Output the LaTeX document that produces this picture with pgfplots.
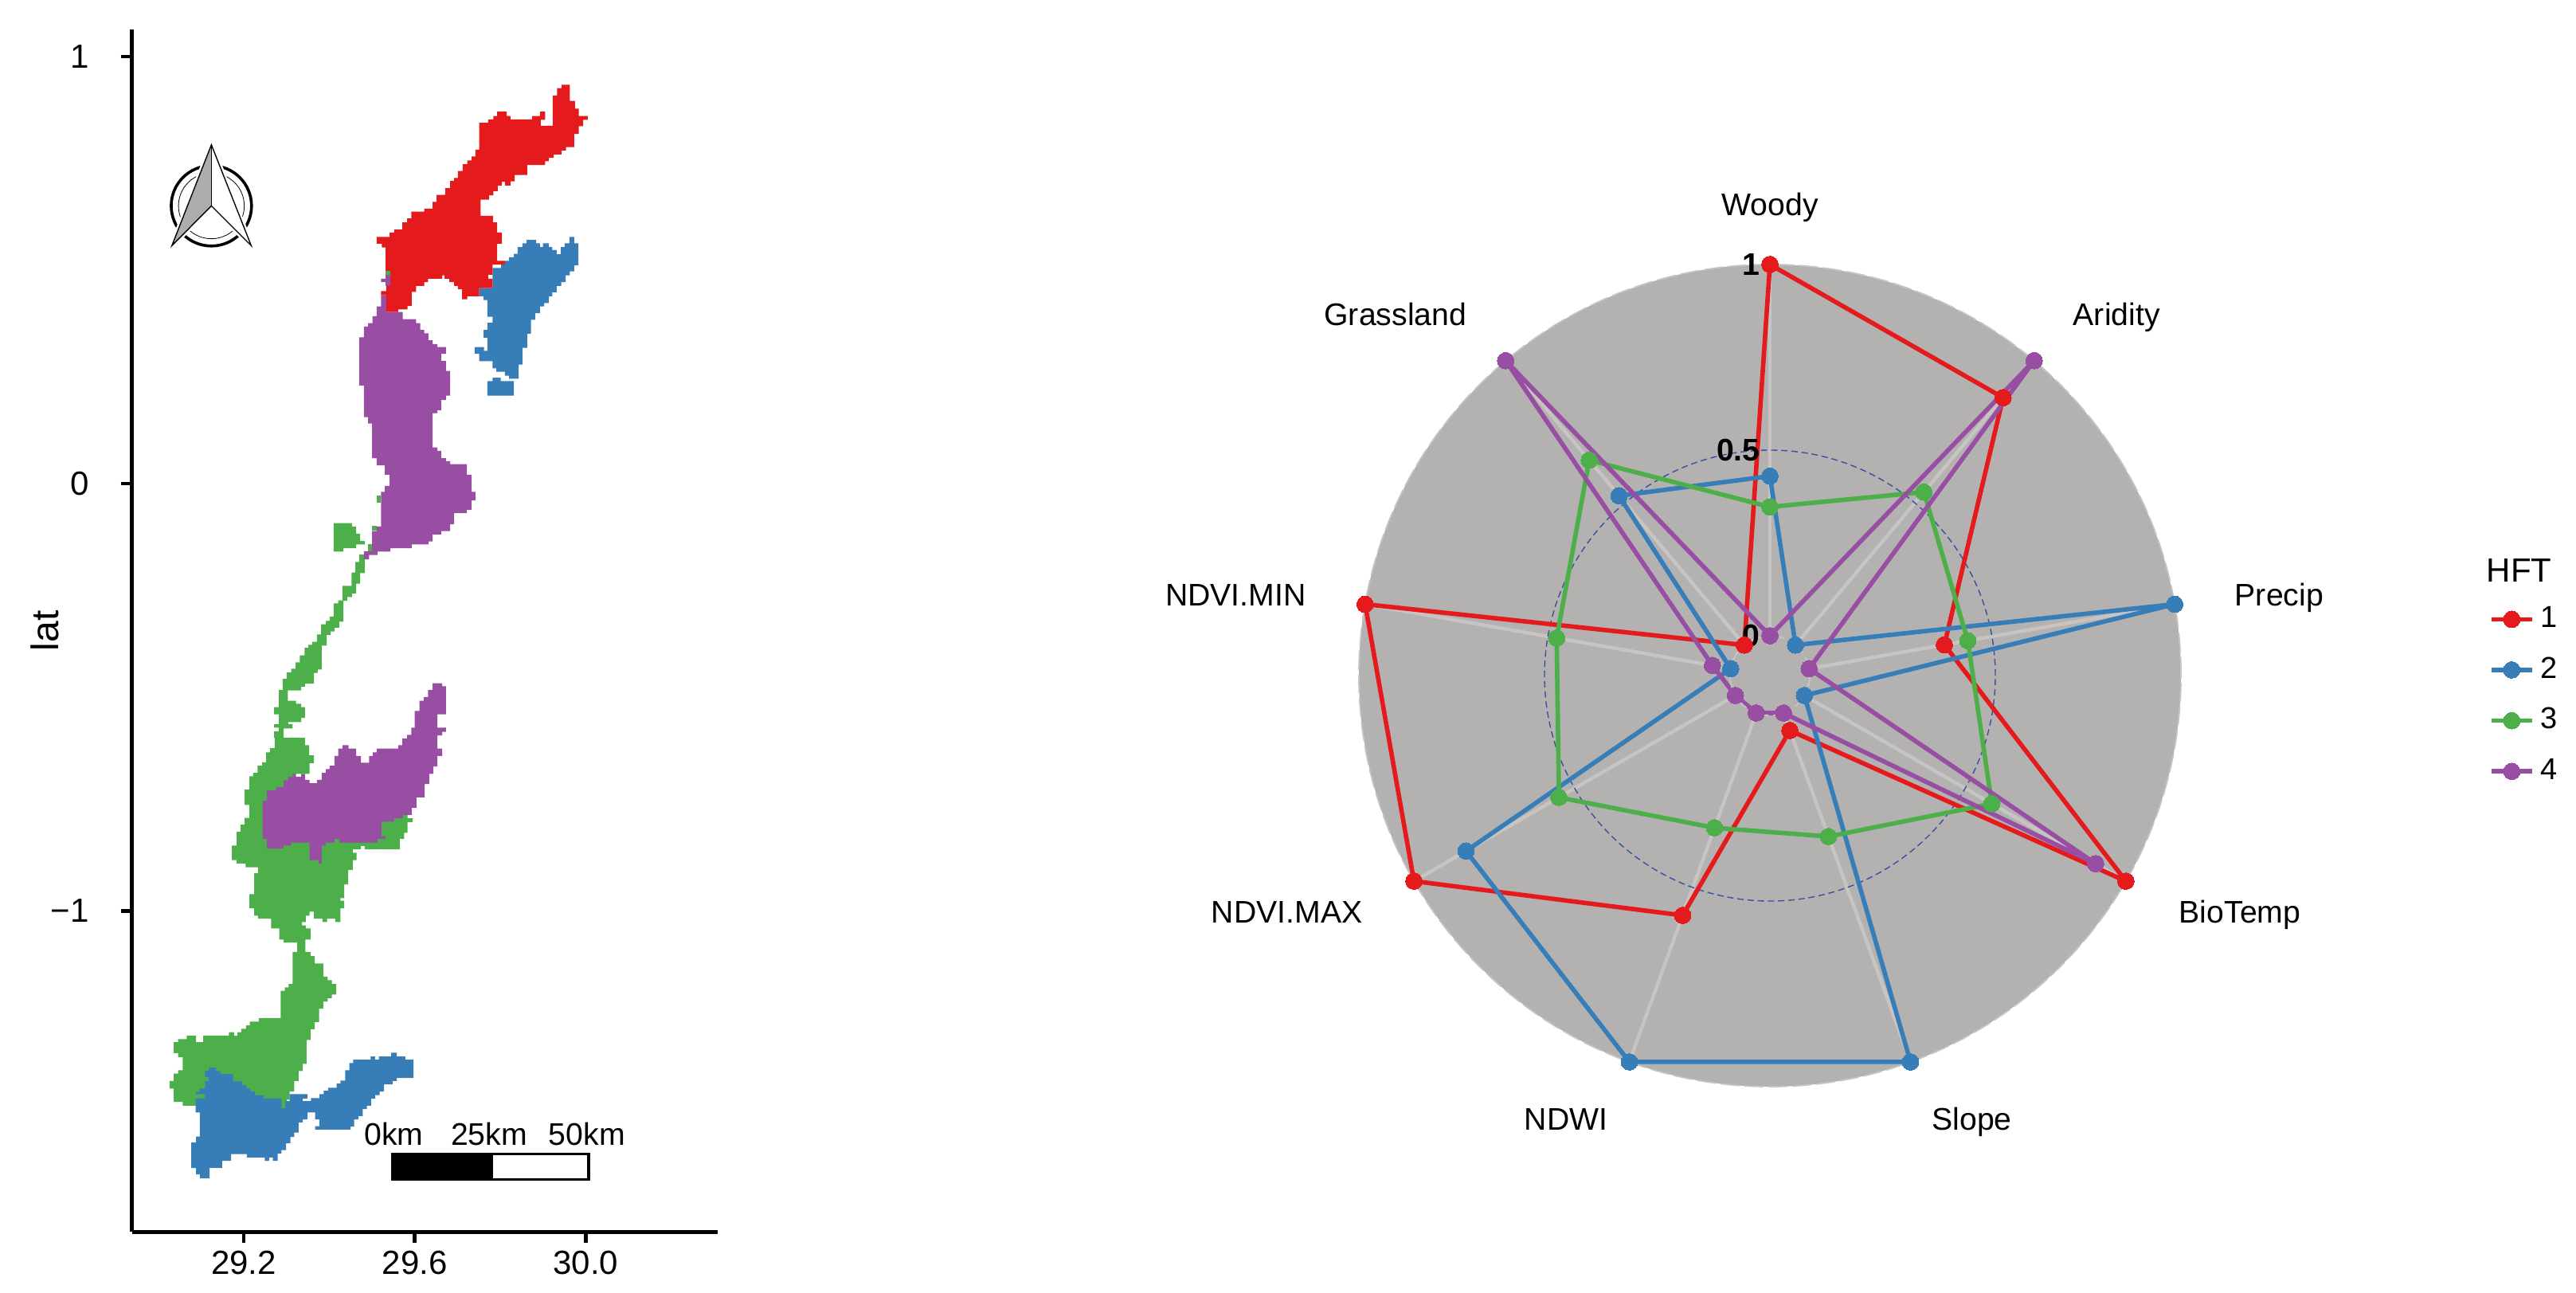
\documentclass[border=0pt]{standalone}
\usepackage{fontspec}
\setmainfont{Liberation Sans}
\usepackage{pgfplots}
\usepackage{pgfplotstable}
\pgfplotsset{compat=1.18}

\definecolor{c1}{HTML}{E41A1C}
\definecolor{c2}{HTML}{377EB8}
\definecolor{c3}{HTML}{4DAF4A}
\definecolor{c4}{HTML}{984EA3}
\definecolor{disc}{HTML}{B3B2B0}
\definecolor{spoke}{HTML}{C6C5C4}
\definecolor{midring}{HTML}{3A4FA0}

% normalised values per axis; last row closes the polygon
\pgfplotstableread{
angle s1   s2    s3    s4
90    1.00 0.43  0.347 0.00
50    0.87 0.00  0.538 1.00
10    0.37 1.00  0.434 0.00
-30   1.00 0.00  0.583 0.906
-70   0.05 1.00  0.354 0.00
-110  0.58 1.00  0.329 0.00
-150  1.00 0.838 0.549 0.00
-190  1.00 0.00  0.476 0.05
-230  0.00 0.525 0.65  1.00
-270  1.00 0.43  0.347 0.00
}\radar

\pgfplotsset{
  cell/.style={const plot,fill=#1,draw=none},
  hft/.style={#1,line width=1.4pt,mark=*,mark size=2.6pt,
    mark options={draw=#1,fill=#1,line width=0pt},data cs=polar},
}
\newcommand{\hole}{0.1073}
\newcommand{\tickfont}{\fontsize{10.5}{12}\selectfont}
\newcommand{\barfont}{\fontsize{9.8}{11}\selectfont}

\begin{document}
\begin{tikzpicture}
\useasboundingbox (0,0) rectangle (808.5pt,405.5pt);

% ---- map panel ----
\begin{axis}[
    at={(41.4pt,18.9pt)},
    anchor=south west,
    scale only axis,
    width=183.85pt,
    height=377.3pt,
    xmin=28.938, xmax=30.309,
    ymin=-1.7516, ymax=1.063,
    axis x line*=bottom,
    axis y line*=left,
    axis line style={line width=1.2pt},
    tick align=outside,
    major tick length=3.5pt,
    tick style={line width=1.15pt,black},
    xtick={29.2,29.6,30.0},
    xticklabels={29.2,29.6,30.0},
    ytick={-1,0,1},
    yticklabels={−1,0,1},
    tick label style={font=\tickfont},
    xticklabel style={yshift=1pt},
    yticklabel style={xshift=-6.4pt},
    ylabel={lat},
    ylabel style={font=\fontsize{12}{14}\selectfont,at={(axis description cs:-0.149,0.5)},anchor=center},
    clip=false,
]
% green first, the other classes sit on top of it
\addplot[cell=c3] coordinates {
(29.470,-0.166)(29.483,-0.209)(29.472,-0.234)(29.463,-0.257)(29.453,-0.265)(29.442,-0.274)
(29.433,-0.323)(29.423,-0.337)(29.412,-0.346)(29.403,-0.354)(29.394,-0.379)(29.382,-0.435)
(29.373,-0.443)(29.364,-0.468)(29.343,-0.475)(29.334,-0.484)(29.303,-0.508)(29.322,-0.515)
(29.334,-0.523)(29.343,-0.548)(29.334,-0.558)(29.304,-0.563)(29.314,-0.573)(29.293,-0.595)
(29.343,-0.612)(29.353,-0.636)(29.364,-0.654)(29.354,-0.679)(29.322,-0.758)(29.572,-0.775)
(29.583,-0.783)(29.595,-0.792)(29.583,-0.817)(29.575,-0.831)(29.565,-0.856)(29.483,-0.848)
(29.474,-0.856)(29.455,-0.864)(29.464,-0.881)(29.455,-0.904)(29.444,-0.938)(29.435,-0.970)
(29.426,-0.976)(29.435,-0.994)(29.426,-1.026)(29.414,-1.018)(29.395,-1.026)(29.384,-1.018)
(29.364,-1.002)(29.354,-1.011)(29.345,-1.026)(29.336,-1.034)(29.345,-1.041)(29.356,-1.067)
(29.344,-1.096)(29.356,-1.106)(29.366,-1.123)(29.386,-1.154)(29.396,-1.162)(29.406,-1.171)
(29.416,-1.196)(29.406,-1.204)(29.396,-1.212)(29.386,-1.229)(29.376,-1.260)(29.366,-1.277)
(29.356,-1.302)(29.347,-1.358)(29.338,-1.375)(29.328,-1.398)(29.318,-1.423)(29.307,-1.442)
(29.300,-1.463)(29.109,-1.456)(29.057,-1.447)(29.036,-1.416)(29.026,-1.398)(29.036,-1.381)
(29.046,-1.373)(29.057,-1.342)(29.046,-1.333)(29.036,-1.307)(29.046,-1.300)(29.066,-1.292)
(29.088,-1.307)(29.105,-1.292)(29.165,-1.284)(29.177,-1.292)(29.185,-1.284)(29.194,-1.276)
(29.205,-1.268)(29.214,-1.259)(29.235,-1.251)(29.286,-1.187)(29.296,-1.179)(29.305,-1.171)
(29.314,-1.096)(29.325,-1.074)(29.293,-1.067)(29.283,-1.041)(29.264,-1.018)(29.233,-1.011)
(29.224,-0.994)(29.213,-0.961)(29.224,-0.912)(29.233,-0.898)(29.204,-0.889)(29.183,-0.881)
(29.172,-0.847)(29.183,-0.815)(29.192,-0.798)(29.202,-0.782)(29.213,-0.752)(29.202,-0.716)
(29.213,-0.685)(29.222,-0.677)(29.232,-0.660)(29.243,-0.652)(29.252,-0.629)(29.261,-0.619)
(29.272,-0.595)(29.271,-0.580)(29.282,-0.571)(29.271,-0.563)(29.282,-0.540)(29.271,-0.523)
(29.282,-0.483)(29.291,-0.457)(29.300,-0.442)(29.311,-0.433)(29.321,-0.418)(29.331,-0.402)
(29.342,-0.384)(29.351,-0.377)(29.360,-0.370)(29.371,-0.353)(29.381,-0.329)(29.392,-0.321)
(29.401,-0.311)(29.410,-0.280)(29.421,-0.273)(29.431,-0.239)(29.452,-0.208)(29.461,-0.183)
(29.470,-0.166)
} -- cycle;
% small green island
\addplot[cell=c3] coordinates {
(29.410,-0.092)(29.453,-0.100)(29.463,-0.117)(29.472,-0.134)(29.483,-0.142)(29.463,-0.151)
(29.433,-0.159)(29.410,-0.092)
} -- cycle;
\addplot[cell=c3] coordinates {(29.491,-0.142)(29.500,-0.159)(29.491,-0.142)} -- cycle;
\addplot[cell=c3] coordinates {(29.511,-0.028)(29.521,-0.044)(29.511,-0.028)} -- cycle;
\addplot[cell=c3] coordinates {(29.500,-0.099)(29.511,-0.109)(29.500,-0.099)} -- cycle;

% purple, north block
\addplot[cell=c4] coordinates {
(29.521,0.441)(29.533,0.402)(29.572,0.385)(29.603,0.376)(29.613,0.360)(29.622,0.352)
(29.632,0.336)(29.642,0.327)(29.653,0.320)(29.673,0.304)(29.662,0.288)(29.673,0.264)
(29.683,0.206)(29.673,0.196)(29.662,0.172)(29.653,0.165)(29.642,0.085)(29.653,0.077)
(29.662,0.060)(29.673,0.053)(29.683,0.046)(29.722,0.021)(29.733,-0.019)(29.742,-0.039)
(29.733,-0.061)(29.722,-0.069)(29.692,-0.095)(29.683,-0.111)(29.662,-0.119)(29.642,-0.135)
(29.632,-0.142)(29.593,-0.151)(29.543,-0.159)(29.513,-0.167)(29.493,-0.177)(29.481,-0.158)
(29.500,-0.111)(29.511,-0.100)(29.521,-0.019)(29.530,-0.005)(29.541,0.021)(29.530,0.043)
(29.511,0.060)(29.500,0.141)(29.491,0.156)(29.481,0.230)(29.470,0.343)(29.481,0.368)
(29.491,0.376)(29.501,0.392)(29.511,0.415)(29.521,0.441)
} -- cycle;
\addplot[cell=c4] coordinates {(29.532,0.489)(29.543,0.463)(29.532,0.472)(29.521,0.480)(29.532,0.489)} -- cycle;
% purple, south block
\addplot[cell=c4] coordinates {
(29.642,-0.467)(29.664,-0.474)(29.673,-0.540)(29.653,-0.571)(29.673,-0.581)(29.664,-0.589)
(29.653,-0.620)(29.664,-0.637)(29.653,-0.662)(29.643,-0.679)(29.634,-0.703)(29.623,-0.734)
(29.604,-0.759)(29.593,-0.775)(29.572,-0.783)(29.552,-0.791)(29.522,-0.825)(29.532,-0.831)
(29.513,-0.840)(29.423,-0.831)(29.412,-0.840)(29.392,-0.847)(29.382,-0.889)(29.375,-0.881)
(29.354,-0.840)(29.311,-0.847)(29.293,-0.854)(29.254,-0.831)(29.244,-0.742)(29.254,-0.718)
(29.275,-0.710)(29.293,-0.694)(29.304,-0.686)(29.314,-0.679)(29.321,-0.686)(29.334,-0.679)
(29.343,-0.693)(29.354,-0.701)(29.371,-0.693)(29.382,-0.677)(29.392,-0.668)(29.401,-0.660)
(29.412,-0.637)(29.421,-0.620)(29.431,-0.612)(29.445,-0.620)(29.463,-0.637)(29.474,-0.653)
(29.493,-0.637)(29.502,-0.629)(29.511,-0.620)(29.561,-0.612)(29.571,-0.596)(29.582,-0.588)
(29.592,-0.571)(29.600,-0.532)(29.611,-0.508)(29.621,-0.499)(29.631,-0.483)(29.642,-0.467)
} -- cycle;

% blue, north block
\addplot[cell=c2] coordinates {
(29.862,0.571)(29.884,0.563)(29.893,0.554)(29.900,0.563)(29.914,0.554)(29.922,0.547)
(29.932,0.537)(29.942,0.554)(29.951,0.563)(29.962,0.578)(29.973,0.563)(29.983,0.511)
(29.973,0.497)(29.963,0.488)(29.953,0.472)(29.943,0.463)(29.932,0.448)(29.922,0.439)
(29.914,0.423)(29.903,0.415)(29.893,0.399)(29.882,0.384)(29.872,0.351)(29.863,0.318)
(29.852,0.279)(29.843,0.246)(29.821,0.240)(29.832,0.206)(29.770,0.240)(29.782,0.248)
(29.801,0.240)(29.821,0.253)(29.811,0.262)(29.791,0.270)(29.782,0.287)(29.751,0.304)
(29.740,0.320)(29.762,0.311)(29.770,0.342)(29.761,0.360)(29.770,0.377)(29.782,0.391)
(29.770,0.430)(29.761,0.439)(29.751,0.458)(29.782,0.505)(29.802,0.513)(29.811,0.522)
(29.821,0.530)(29.832,0.538)(29.841,0.554)(29.852,0.563)(29.862,0.571)
} -- cycle;
% blue, south block
\addplot[cell=c2] coordinates {
(29.118,-1.367)(29.135,-1.375)(29.145,-1.382)(29.175,-1.399)(29.196,-1.407)(29.206,-1.416)
(29.216,-1.423)(29.226,-1.431)(29.246,-1.439)(29.288,-1.462)(29.297,-1.445)(29.307,-1.429)
(29.349,-1.439)(29.338,-1.445)(29.357,-1.438)(29.377,-1.429)(29.387,-1.421)(29.397,-1.414)
(29.417,-1.404)(29.426,-1.397)(29.437,-1.373)(29.447,-1.356)(29.456,-1.348)(29.497,-1.341)
(29.507,-1.348)(29.516,-1.341)(29.545,-1.332)(29.558,-1.341)(29.578,-1.348)(29.597,-1.391)
(29.558,-1.398)(29.548,-1.406)(29.528,-1.423)(29.518,-1.431)(29.507,-1.439)(29.498,-1.456)
(29.488,-1.464)(29.478,-1.480)(29.468,-1.488)(29.458,-1.505)(29.450,-1.512)(29.367,-1.504)
(29.377,-1.488)(29.367,-1.472)(29.349,-1.488)(29.338,-1.495)(29.328,-1.519)(29.318,-1.529)
(29.309,-1.544)(29.299,-1.560)(29.288,-1.568)(29.279,-1.585)(29.268,-1.577)(29.259,-1.585)
(29.249,-1.577)(29.207,-1.569)(29.170,-1.585)(29.149,-1.602)(29.120,-1.626)(29.097,-1.617)
(29.088,-1.602)(29.077,-1.542)(29.088,-1.528)(29.097,-1.472)(29.087,-1.439)(29.109,-1.429)
(29.088,-1.423)(29.097,-1.416)(29.109,-1.398)(29.118,-1.389)(29.109,-1.375)(29.118,-1.367)
} -- cycle;

% red
\addplot[cell=c1] coordinates {
(29.944,0.934)(29.963,0.896)(29.975,0.878)(29.984,0.861)(30.005,0.852)(29.994,0.837)
(29.984,0.819)(29.973,0.788)(29.954,0.780)(29.944,0.771)(29.925,0.763)(29.914,0.755)
(29.905,0.746)(29.863,0.723)(29.834,0.708)(29.824,0.698)(29.811,0.707)(29.804,0.698)
(29.794,0.685)(29.784,0.675)(29.774,0.665)(29.754,0.627)(29.783,0.612)(29.793,0.588)
(29.804,0.562)(29.793,0.522)(29.811,0.513)(29.782,0.489)(29.772,0.480)(29.782,0.458)
(29.751,0.439)(29.723,0.432)(29.711,0.455)(29.701,0.463)(29.692,0.472)(29.681,0.480)
(29.670,0.488)(29.664,0.480)(29.631,0.472)(29.622,0.463)(29.603,0.449)(29.593,0.416)
(29.583,0.408)(29.561,0.402)(29.533,0.441)(29.521,0.451)(29.533,0.463)(29.543,0.489)
(29.532,0.553)(29.523,0.562)(29.511,0.578)(29.541,0.588)(29.552,0.595)(29.571,0.612)
(29.582,0.621)(29.592,0.637)(29.622,0.644)(29.642,0.660)(29.651,0.676)(29.671,0.692)
(29.683,0.709)(29.692,0.716)(29.701,0.732)(29.712,0.748)(29.723,0.757)(29.733,0.766)
(29.742,0.782)(29.751,0.845)(29.772,0.853)(29.784,0.861)(29.793,0.871)(29.815,0.861)
(29.824,0.853)(29.875,0.861)(29.893,0.871)(29.905,0.852)(29.895,0.838)(29.923,0.909)
(29.933,0.926)(29.944,0.934)
} -- cycle;
\addplot[cell=c3] coordinates {(29.532,0.499)(29.543,0.489)(29.532,0.499)} -- cycle;

% scale bar
\addplot[fill=black,draw=black,line width=0.8pt] coordinates {(29.548,-1.569)(29.781,-1.569)(29.781,-1.628)(29.548,-1.628)} -- cycle;
\addplot[fill=white,draw=black,line width=0.8pt] coordinates {(29.781,-1.569)(30.007,-1.569)(30.007,-1.628)(29.781,-1.628)} -- cycle;
\node[font=\barfont] at (axis cs:29.551,-1.522) {0km};
\node[font=\barfont] at (axis cs:29.774,-1.522) {25km};
\node[font=\barfont] at (axis cs:30.003,-1.522) {50km};

% north arrow
\draw[line width=0.9pt] (axis cs:29.124,0.6505) circle[radius=0.094];
\draw[line width=0.2pt] (axis cs:29.124,0.6505) circle[radius=0.077];
\fill[white,draw=white,line width=1.6pt] (axis cs:29.124,0.7934) -- (axis cs:29.2173,0.5572) -- (axis cs:29.124,0.6505) -- (axis cs:29.0316,0.5572) -- cycle;
\fill[black!32] (axis cs:29.124,0.7934) -- (axis cs:29.124,0.6505) -- (axis cs:29.0316,0.5572) -- cycle;
\draw[line width=0.35pt,line join=miter] (axis cs:29.124,0.7934) -- (axis cs:29.2173,0.5572) -- (axis cs:29.124,0.6505) -- (axis cs:29.0316,0.5572) -- cycle;
\draw[line width=0.35pt] (axis cs:29.124,0.7934) -- (axis cs:29.124,0.6505);
\end{axis}

% ---- radar panel ----
\begin{axis}[
    at={(555.5pt,193.5pt)},
    anchor=center,
    scale only axis,
    width=258pt,
    height=258pt,
    xmin=-1.1073, xmax=1.1073,
    ymin=-1.1073, ymax=1.1073,
    hide axis,
    clip=false,
    legend style={
        at={(axis cs:1.936,0.205)},
        anchor=north west,
        draw=none,
        fill=none,
        font=\fontsize{9.5}{11}\selectfont,
        inner sep=0pt,
        row sep=3.8pt,
    },
    legend cell align=left,
    legend image code/.code={
        \draw[#1,mark repeat=2,mark phase=2] plot coordinates {(0pt,0pt)(6.4pt,0pt)(12.8pt,0pt)};
    },
]
\fill[disc] (axis cs:0,0) circle[radius=1.1073];
% spokes
\pgfplotsinvokeforeach{90,50,10,-30,-70,-110,-150,170,130}{
  \addplot[spoke,line width=1.1pt,data cs=polar,forget plot] coordinates {(#1,0.1073)(#1,1.1073)};
}
\draw[midring,line width=0.35pt,dash pattern=on 2pt off 1.2pt] (axis cs:0,0) circle[radius=0.6073];

\addplot[hft=c1] table[x=angle,y expr=\thisrow{s1}+\hole] {\radar};
\addlegendentry{1}
\addplot[hft=c2] table[x=angle,y expr=\thisrow{s2}+\hole] {\radar};
\addlegendentry{2}
\addplot[hft=c3] table[x=angle,y expr=\thisrow{s3}+\hole] {\radar};
\addlegendentry{3}
\addplot[hft=c4] table[x=angle,y expr=\thisrow{s4}+\hole] {\radar};
\addlegendentry{4}

% the min and max rings lie over the markers
\draw[spoke,line width=0.45pt,dash pattern=on 6pt off 1.5pt] (axis cs:0,0) circle[radius=0.1073];
\draw[spoke,line width=0.45pt,dash pattern=on 6pt off 1.5pt] (axis cs:0,0) circle[radius=1.1073];

\node[font=\barfont\bfseries,anchor=east,inner sep=0pt] at (axis cs:-0.025,1.1073) {1};
\node[font=\barfont\bfseries,anchor=east,inner sep=0pt] at (axis cs:-0.025,0.6073) {0.5};
\node[font=\barfont\bfseries,anchor=east,inner sep=0pt] at (axis cs:-0.025,0.1073) {0};

\node[font=\barfont,anchor=base] at (axis cs:0,1.240) {Woody};
\node[font=\barfont,anchor=base] at (axis cs:0.934,0.944) {Aridity};
\node[font=\barfont,anchor=base] at (axis cs:1.372,0.1875) {Precip};
\node[font=\barfont,anchor=base] at (axis cs:1.266,-0.667) {BioTemp};
\node[font=\barfont,anchor=base] at (axis cs:0.544,-1.224) {Slope};
\node[font=\barfont,anchor=base] at (axis cs:-0.549,-1.224) {NDWI};
\node[font=\barfont,anchor=base] at (axis cs:-1.301,-0.667) {NDVI.MAX};
\node[font=\barfont,anchor=base] at (axis cs:-1.439,0.1875) {NDVI.MIN};
\node[font=\barfont,anchor=base] at (axis cs:-1.009,0.944) {Grassland};
\node[font=\tickfont,anchor=base west,inner sep=0pt] at (axis cs:1.929,0.2520) {HFT};
\end{axis}
\end{tikzpicture}
\end{document}
